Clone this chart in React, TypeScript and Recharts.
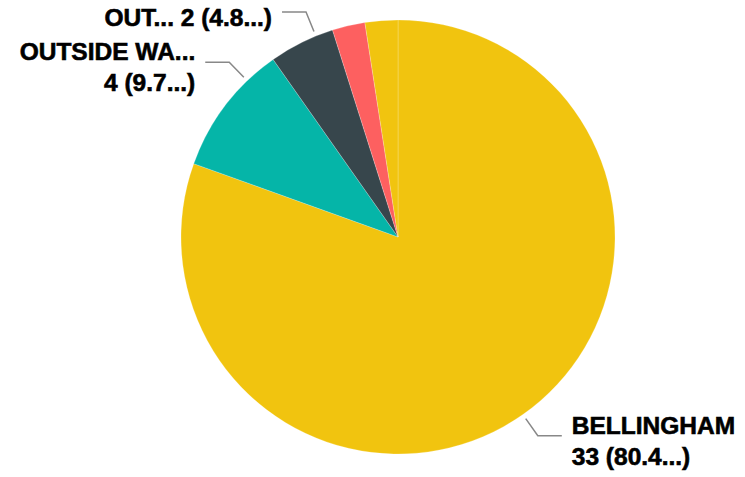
import React from 'react';
import { PieChart, Pie, Cell } from 'recharts';

// Slice data (clockwise from 12 o'clock)
const CATEGORIES = ['BELLINGHAM', 'OUTSIDE WA...', 'OUT...', 'OTHER A', 'OTHER B'];
const COUNTS = [33, 4, 2, 1, 1];
const COLORS = ['#F1C40F', '#05B5A8', '#37464C', '#FD6060', '#F1C40F'];

// Label placement tweaks (angle nudge in degrees, stacked or inline text)
const LABEL_LAYOUT: Record<number, { nudge: number; lines: number }> = {
  0: { nudge: 0, lines: 2 },
  1: { nudge: -8.7, lines: 2 },
  2: { nudge: -4.1, lines: 1 },
};

const RADIAN = Math.PI / 180;
const total = COUNTS.reduce((a, b) => a + b, 0);
const data = CATEGORIES.map((name, i) => ({ name, value: COUNTS[i] }));

const fmtPct = (v: number) => `${Math.floor((v / total) * 1000) / 10}...`;

const renderLabel = (props: any) => {
  const { cx, cy, midAngle, outerRadius, index, name, value } = props;
  const layout = LABEL_LAYOUT[index];
  if (!layout) return null;
  const angle = (midAngle + layout.nudge) * RADIAN;
  const cos = Math.cos(-angle);
  const sin = Math.sin(-angle);
  const sx = cx + (outerRadius + 5) * cos;
  const sy = cy + (outerRadius + 5) * sin;
  const mx = cx + (outerRadius + 26) * cos;
  const my = cy + (outerRadius + 26) * sin;
  const dir = cos >= 0 ? 1 : -1;
  const ex = mx + dir * 24;
  const tx = ex + dir * 10;
  const anchor = dir > 0 ? 'start' : 'end';
  const valueText = `${value} (${fmtPct(value)})`;
  const textStyle = {
    fontFamily: '"Liberation Sans", Arial, sans-serif',
    fontWeight: 700,
    fontSize: 24.5,
    fill: '#000',
    stroke: '#000',
    strokeWidth: 0.6,
  };
  return (
    <g key={`label-${index}`}>
      <polyline
        points={`${sx},${sy} ${mx},${my} ${ex},${my}`}
        fill="none"
        stroke="#888"
        strokeWidth={1.5}
      />
      {layout.lines === 2 ? (
        <text textAnchor={anchor} style={textStyle}>
          <tspan x={tx} y={my - 2}>{name}</tspan>
          <tspan x={tx} y={my + 29}>{valueText}</tspan>
        </text>
      ) : (
        <text x={tx} y={my + 14} textAnchor={anchor} style={textStyle}>
          {`${name} ${valueText}`}
        </text>
      )}
    </g>
  );
};

export default function App() {
  return (
    <div style={{ position: 'absolute', left: 0, top: 0, width: 745, height: 477, background: '#fff' }}>
      <PieChart width={745} height={477} margin={{ top: 0, right: 0, bottom: 0, left: 0 }}>
        <Pie
          data={data}
          dataKey="value"
          nameKey="name"
          cx={398}
          cy={237}
          outerRadius={217}
          startAngle={90}
          endAngle={-270}
          stroke="#fff"
          strokeOpacity={0.35}
          strokeWidth={0.6}
          label={renderLabel}
          labelLine={false}
          isAnimationActive={false}
        >
          {data.map((_, i) => (
            <Cell key={`cell-${i}`} fill={COLORS[i]} />
          ))}
        </Pie>
      </PieChart>
    </div>
  );
}
